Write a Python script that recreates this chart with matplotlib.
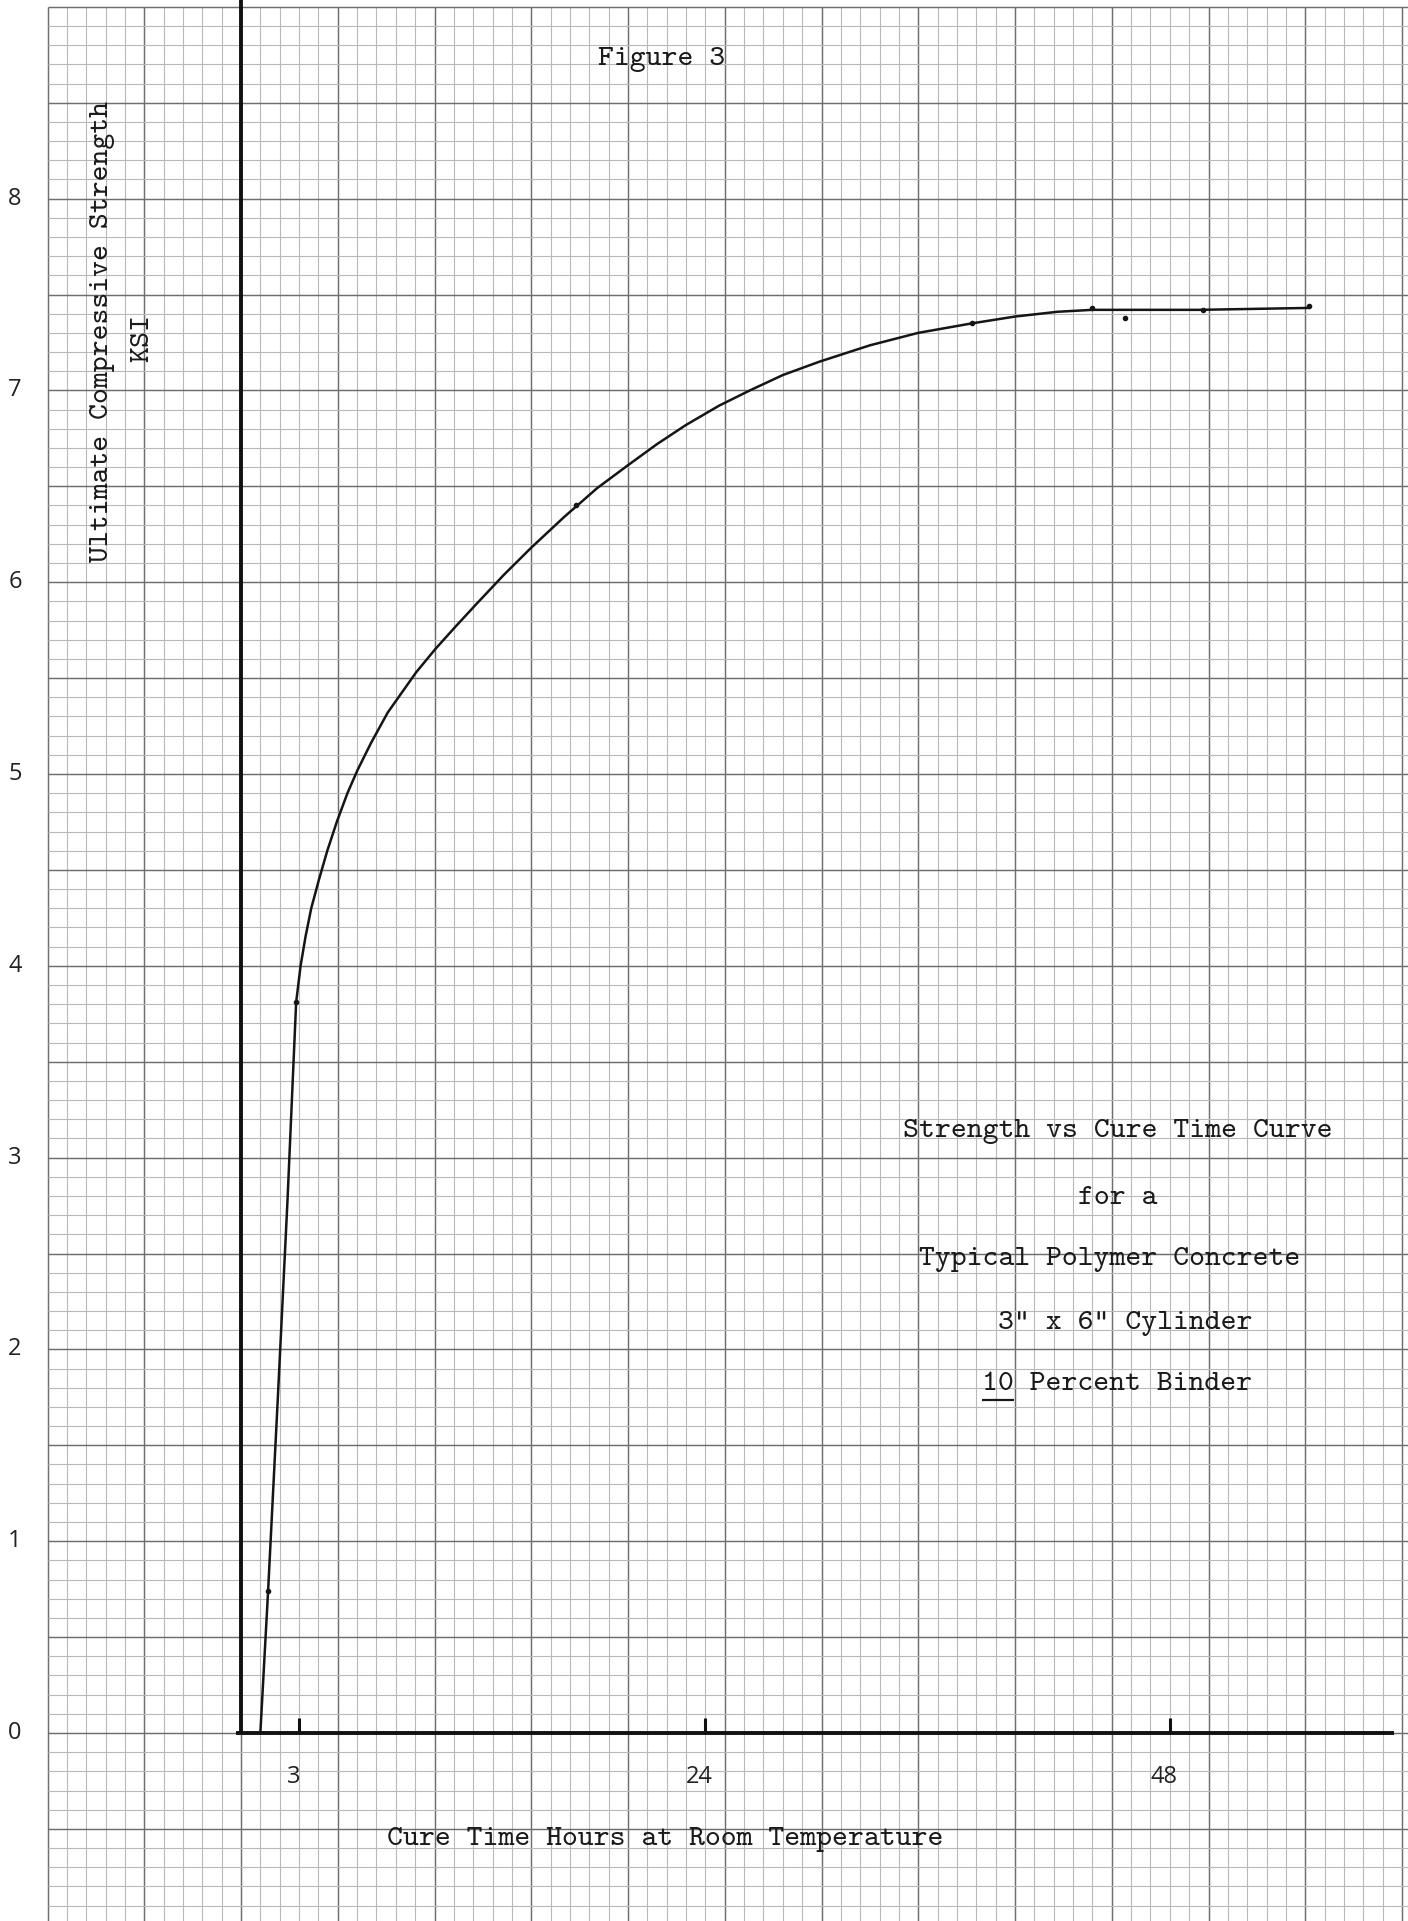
import numpy as np
import matplotlib.pyplot as plt

# strength vs cure time (hours, KSI)
hours = [1.0, 1.4, 1.9, 2.4, 2.85, 3.08, 3.34, 3.63, 4.03, 4.46, 4.95, 5.5, 6.02,
         6.71, 7.58, 9.05, 10.03, 11.1, 12.2, 13.6, 15.0, 16.7, 18.4, 20.0, 21.5,
         23.0, 24.7, 26.3, 28.0, 29.9, 32.5, 35.0, 37.8, 40.0, 42.2, 44.0, 49.5, 55.2]
strength = [0.0, 0.74, 1.74, 2.77, 3.81, 4.0, 4.155, 4.30, 4.45, 4.60, 4.75, 4.90, 5.02,
            5.16, 5.32, 5.53, 5.65, 5.77, 5.89, 6.04, 6.18, 6.34, 6.49, 6.61, 6.72,
            6.82, 6.92, 7.0, 7.08, 7.15, 7.235, 7.30, 7.35, 7.385, 7.41, 7.42, 7.42, 7.43]

# the little pencil dots on the curve
dot_hours = [1.4, 2.85, 17.3, 37.8, 44.0, 45.7, 49.7, 55.2]
dot_strength = [0.74, 3.81, 6.40, 7.35, 7.43, 7.38, 7.42, 7.44]

x_ticks = [3, 24, 48]
x_tick_labels = ["3", "24", "48"]
y_ticks = [0, 1, 2, 3, 4, 5, 6, 7, 8]

note_lines = ["Strength vs Cure Time Curve", "for a", "Typical Polymer Concrete",
              '3" x 6" Cylinder', "10 Percent Binder"]

W, H = 1408, 1921
X0, XS = 241.0, 19.35    # pixel of 0 h, pixels per hour
Y0, YS = 1733.0, 191.8   # pixel of 0 KSI, pixels per KSI

fig = plt.figure(figsize=(W / 100, H / 100), dpi=100)
fig.patch.set_facecolor("white")
ax = fig.add_axes([0, 0, 1, 1])
ax.set_xlim(-X0 / XS, (W - X0) / XS)
ax.set_ylim(-(H - Y0) / YS, Y0 / YS)
ax.axis("off")

# graph paper: 1 h x 0.1 KSI squares, heavier every fifth
minor_c, major_c = "#b9b9b9", "#6e6e6e"
for i in range(-10, 61):
    major = i % 5 == 0
    ax.vlines(i, -1.0, 9.0, colors=major_c if major else minor_c,
              linewidth=1.05 if major else 0.8, zorder=1)
for j in range(-9, 91):
    major = j % 5 == 0
    ax.hlines(j / 10, -10, 61, colors=major_c if major else minor_c,
              linewidth=1.05 if major else 0.8, zorder=1)

# hand-drawn axes
ax.vlines(0, 0, Y0 / YS, colors="#111111", linewidth=2.8, zorder=3)
ax.hlines(0, -0.25, 59.6, colors="#111111", linewidth=2.8, zorder=3)
for t in x_ticks:
    ax.vlines(t, 0, 0.08, colors="#111111", linewidth=2.2, zorder=3)

ax.plot(hours, strength, color="#151515", linewidth=1.8, zorder=4,
        solid_joinstyle="round", solid_capstyle="round")
ax.plot(dot_hours, dot_strength, "o", color="#151515", markersize=3, zorder=5)

mono = "cmtt10"
tsize = 21.8

def px(x, y):
    return (x - X0) / XS, (Y0 - y) / YS

for v in y_ticks:
    ax.text(px(15, 0)[0], v, str(v), family="Open Sans", fontsize=17,
            ha="center", va="center", color="#222222")
for t, lab in zip(x_ticks, x_tick_labels):
    ax.text(t - 0.3, px(0, 1777)[1], lab, family="Open Sans", fontsize=17,
            ha="center", va="center", color="#222222")

ax.text(*px(662, 59), "Figure 3", family=mono, fontsize=tsize,
        ha="center", va="center", color="#1a1a1a")
ax.text(*px(103, 332), "Ultimate Compressive Strength", family=mono, fontsize=tsize,
        rotation=90, ha="center", va="center", color="#1a1a1a")
ax.text(*px(143, 338), "KSI", family=mono, fontsize=tsize,
        rotation=90, ha="center", va="center", color="#1a1a1a")
ax.text(*px(665, 1840), "Cure Time Hours at Room Temperature", family=mono,
        fontsize=tsize, ha="center", va="center", color="#1a1a1a")

note_x = [1118, 1118, 1110, 1125, 1117]
note_y = [1132, 1198, 1260, 1323, 1385]
last = None
for s, nx, ny in zip(note_lines, note_x, note_y):
    last = ax.text(*px(nx, ny), s, family=mono, fontsize=tsize,
                   ha="center", va="center", color="#1a1a1a")

# underline the "10"
fig.canvas.draw()
bb = last.get_window_extent()
cw = bb.width / len(note_lines[-1])
inv = ax.transData.inverted()
(ux0, uy), (ux1, _) = inv.transform([(bb.x0, bb.y0 - 2), (bb.x0 + 2 * cw, bb.y0 - 2)])
ax.hlines(uy, ux0, ux1, colors="#1a1a1a", linewidth=1.6, zorder=4)

fig.savefig("out.png", dpi=100, facecolor="white")
